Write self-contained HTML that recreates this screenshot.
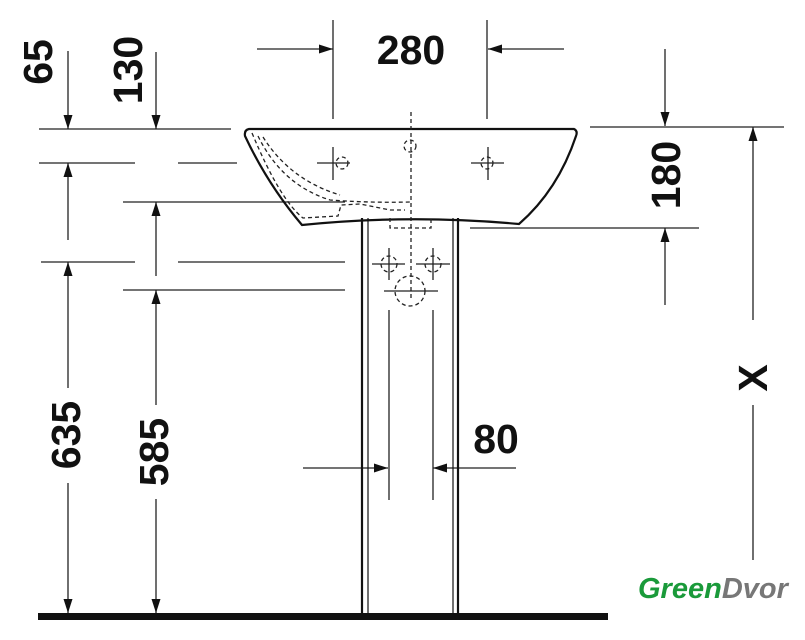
<!DOCTYPE html>
<html><head><meta charset="utf-8"><style>
html,body{margin:0;padding:0;background:#fff;width:805px;height:640px;overflow:hidden}
text{font-family:"Liberation Sans",sans-serif;font-weight:bold;fill:#111}
</style></head><body>
<svg width="805" height="640" viewBox="0 0 805 640" xmlns="http://www.w3.org/2000/svg">
<defs>
<marker id="a" viewBox="0 0 14 10" refX="14" refY="5" markerWidth="14" markerHeight="10" markerUnits="userSpaceOnUse" orient="auto"><path d="M0,0.5 L14,5 L0,9.5 z" fill="#111"/></marker>
</defs>
<g stroke="#222" stroke-width="1.3" fill="none">
<line x1="39" y1="129" x2="231" y2="129"/>
<line x1="39" y1="163" x2="135" y2="163"/>
<line x1="178" y1="163" x2="237" y2="163"/>
<line x1="123" y1="202" x2="345" y2="202"/>
<line x1="41" y1="262" x2="135" y2="262"/>
<line x1="178" y1="262" x2="345" y2="262"/>
<line x1="123" y1="290" x2="345" y2="290"/>
<line x1="590" y1="127" x2="784" y2="127"/>
<line x1="470" y1="228" x2="699" y2="228"/>
<line x1="333" y1="20" x2="333" y2="119"/>
<line x1="487" y1="20" x2="487" y2="119"/>
<line x1="68" y1="51" x2="68" y2="129" marker-end="url(#a)"/>
<line x1="156" y1="52" x2="156" y2="129" marker-end="url(#a)"/>
<line x1="68" y1="240" x2="68" y2="163" marker-end="url(#a)"/>
<line x1="156" y1="276" x2="156" y2="202" marker-end="url(#a)"/>
<line x1="68" y1="388" x2="68" y2="262" marker-end="url(#a)"/>
<line x1="68" y1="483" x2="68" y2="613" marker-end="url(#a)"/>
<line x1="156" y1="405" x2="156" y2="290" marker-end="url(#a)"/>
<line x1="156" y1="499" x2="156" y2="613" marker-end="url(#a)"/>
<line x1="257" y1="49" x2="333" y2="49" marker-end="url(#a)"/>
<line x1="564" y1="49" x2="488" y2="49" marker-end="url(#a)"/>
<line x1="665" y1="49" x2="665" y2="126" marker-end="url(#a)"/>
<line x1="665" y1="305" x2="665" y2="228" marker-end="url(#a)"/>
<line x1="753" y1="320" x2="753" y2="127" marker-end="url(#a)"/>
<line x1="753" y1="405" x2="753" y2="560"/>
<line x1="303" y1="468" x2="388" y2="468" marker-end="url(#a)"/>
<line x1="516" y1="468" x2="433" y2="468" marker-end="url(#a)"/>
<line x1="389" y1="310" x2="389" y2="500"/>
<line x1="433" y1="310" x2="433" y2="500"/>
</g>
<path d="M249,129 L574,129 Q578,131 576,136 Q558,190 519,224 Q410,214 302,225 Q268,185 245,136 Q244,130 249,129 z" fill="none" stroke="#111" stroke-width="2.2"/>
<g stroke="#222" stroke-width="1.3" fill="none" stroke-dasharray="4,3">
<path d="M252,133 Q280,200 303,218 L338,216 L341,205 L360,204 L390,210 L405,210"/>
<path d="M258,136 Q282,185 330,200 Q370,203 410,202"/>
<path d="M263,137 Q290,180 340,195"/>
<path d="M390,218 L390,228 L431,228 L431,218"/>
<circle cx="410" cy="146" r="6"/>
<circle cx="342" cy="163" r="6"/>
<circle cx="487" cy="163" r="6"/>
<circle cx="389" cy="264" r="8"/>
<circle cx="433" cy="264" r="8"/>
<circle cx="410" cy="291" r="15"/>
<line x1="411" y1="112" x2="411" y2="300"/>
</g>
<g stroke="#222" stroke-width="1.3">
<line x1="317" y1="163" x2="350" y2="163"/><line x1="333" y1="147" x2="333" y2="180"/>
<line x1="471" y1="163" x2="504" y2="163"/><line x1="488" y1="147" x2="488" y2="180"/>
<line x1="372" y1="264" x2="405" y2="264"/><line x1="389" y1="248" x2="389" y2="280"/>
<line x1="416" y1="264" x2="450" y2="264"/><line x1="433" y1="248" x2="433" y2="280"/>
<line x1="384" y1="291" x2="438" y2="291"/>
</g>
<g stroke="#111" fill="none">
<line x1="362" y1="218" x2="362" y2="613" stroke-width="2.2"/>
<line x1="368" y1="218" x2="368" y2="613" stroke-width="1.2"/>
<line x1="453" y1="218" x2="453" y2="613" stroke-width="1.2"/>
<line x1="458" y1="218" x2="458" y2="613" stroke-width="2.2"/>
</g>
<rect x="38" y="613" width="570" height="7" fill="#111"/>
<text x="411" y="64" font-size="41" text-anchor="middle">280</text>
<text x="496" y="453" font-size="41" text-anchor="middle">80</text>
<text transform="translate(52,62) rotate(-90)" font-size="41" text-anchor="middle">65</text>
<text transform="translate(142,70) rotate(-90)" font-size="41" text-anchor="middle">130</text>
<text transform="translate(80,435) rotate(-90)" font-size="41" text-anchor="middle">635</text>
<text transform="translate(168,452) rotate(-90)" font-size="41" text-anchor="middle">585</text>
<text transform="translate(680,175) rotate(-90)" font-size="41" text-anchor="middle">180</text>
<text transform="translate(767,378) rotate(-90)" font-size="41" text-anchor="middle">X</text>
<text x="638" y="598" font-size="29" font-style="italic" style="fill:#1a9a3a">Green<tspan style="fill:#777">Dvor</tspan></text>
</svg>
</body></html>
